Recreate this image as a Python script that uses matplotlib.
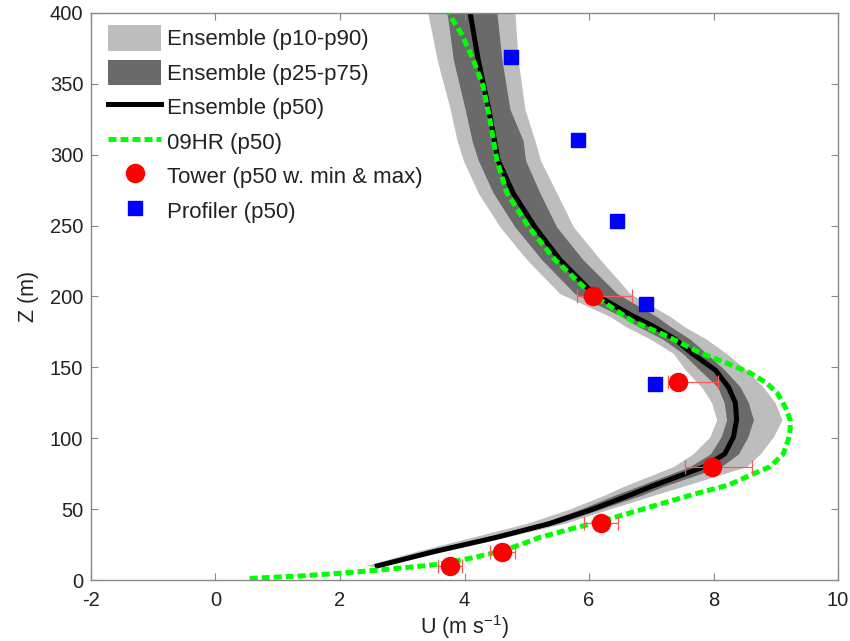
import matplotlib
matplotlib.use("Agg")
import matplotlib.pyplot as plt
import numpy as np

plt.rcParams['font.family'] = ['Liberation Sans', 'DejaVu Sans']
plt.rcParams['axes.unicode_minus'] = False

# Ensemble percentiles of wind speed against height
z_ens = [10, 20, 30, 40, 50, 60, 66, 80, 89, 101, 113, 125, 136, 148, 160,
         170, 179, 186, 202, 226, 249, 273, 296, 310, 332, 367, 400]
ens_p10 = [2.40, 3.20, 4.10, 5.00, 5.68, 6.25, 6.55, 7.35, 7.67, 7.94, 8.05, 7.97, 7.81, 7.55, 7.35,
           6.98, 6.58, 6.33, 5.53, 5.00, 4.57, 4.22, 3.98, 3.88, 3.77, 3.56, 3.41]
ens_p25 = [2.50, 3.40, 4.30, 5.22, 5.86, 6.42, 6.78, 7.62, 7.95, 8.12, 8.21, 8.17, 8.07, 7.78, 7.50,
           7.18, 6.78, 6.52, 5.77, 5.24, 4.81, 4.46, 4.22, 4.12, 4.01, 3.82, 3.72]
ens_p50 = [2.60, 3.50, 4.50, 5.38, 6.06, 6.66, 7.00, 7.85, 8.18, 8.32, 8.37, 8.35, 8.24, 8.03, 7.65,
           7.38, 7.03, 6.71, 6.07, 5.53, 5.13, 4.78, 4.54, 4.48, 4.39, 4.22, 4.09]
ens_p75 = [2.65, 3.58, 4.57, 5.50, 6.18, 6.85, 7.19, 8.12, 8.40, 8.55, 8.64, 8.56, 8.43, 8.18, 7.88,
           7.62, 7.30, 7.08, 6.45, 5.90, 5.48, 5.21, 4.98, 4.94, 4.73, 4.60, 4.52]
ens_p90 = [2.70, 3.65, 4.64, 5.60, 6.32, 7.05, 7.50, 8.53, 8.75, 8.96, 9.10, 8.99, 8.80, 8.53, 8.20,
           7.88, 7.52, 7.30, 6.66, 6.18, 5.75, 5.48, 5.22, 5.13, 4.97, 4.86, 4.81]

# 09HR median profile
z_hr = [1.2, 3, 5, 7, 9, 11, 15, 20, 25, 30, 35, 41, 47, 54, 61, 67, 75, 80, 89, 99,
        106, 113, 122, 132, 139, 146, 153, 160, 172, 183, 202, 226, 249, 273, 296,
        324, 348, 367, 385, 400]
u_hr = [0.55, 1.40, 2.05, 2.60, 3.10, 3.55, 4.05, 4.55, 4.90, 5.20, 5.62, 6.15, 6.63, 7.17,
        7.72, 8.24, 8.64, 8.91, 9.12, 9.20, 9.23, 9.23, 9.15, 9.02, 8.85, 8.59, 8.21, 7.80,
        7.25, 6.68, 6.03, 5.45, 5.03, 4.68, 4.52, 4.41, 4.30, 4.14, 3.95, 3.74]

# Tower observations: median with min and max
z_tower = [10, 20, 40, 80, 140, 200]
u_tower = [3.77, 4.60, 6.19, 7.98, 7.43, 6.06]
u_tower_min = [3.57, 4.41, 5.92, 7.54, 7.27, 5.81]
u_tower_max = [3.96, 4.81, 6.47, 8.62, 8.07, 6.69]

# Profiler medians
z_prof = [138, 195, 253, 310, 369]
u_prof = [7.06, 6.92, 6.45, 5.82, 4.75]

fig = plt.figure(figsize=(8.5, 6.41), dpi=100)
ax = fig.add_axes([0.107, 0.095, 0.879, 0.885])

ax.fill_betweenx(z_ens, ens_p10, ens_p90, color='#bdbdbd', lw=0, label='Ensemble (p10-p90)')
ax.fill_betweenx(z_ens, ens_p25, ens_p75, color='#6a6a6a', lw=0, label='Ensemble (p25-p75)')
ax.plot(ens_p50, z_ens, color='black', lw=3.6, label='Ensemble (p50)')
ax.plot(u_hr, z_hr, color='#00ff00', lw=3.6, ls=(0, (1.6, 0.8)), label='09HR (p50)')

u_tower = np.array(u_tower)
xerr = [u_tower - np.array(u_tower_min), np.array(u_tower_max) - u_tower]
ax.errorbar(u_tower, z_tower, xerr=xerr, fmt='none', ecolor='#ff5a5a',
            elinewidth=0.9, capsize=5, capthick=0.9)
ax.plot(u_tower, z_tower, 'o', color='red', ms=13, mec='red',
        label='Tower (p50 w. min & max)')
ax.plot(u_prof, z_prof, 's', color='blue', ms=10, mec='blue', label='Profiler (p50)')

ax.set_xlim(-2, 10)
ax.set_ylim(0, 400)
ax.set_xticks(np.arange(-2, 11, 2))
ax.set_yticks(np.arange(0, 401, 50))

for s in ax.spines.values():
    s.set_color('#888888')
    s.set_linewidth(1.0)
ax.tick_params(direction='in', length=5, width=0.8, color='#888888',
               top=True, right=True, labelsize=14.5, labelcolor='#222222')
ax.tick_params(axis='x', pad=8)
ax.tick_params(axis='y', pad=5.5)

ax.set_xlabel(r'U (m s$^{\mathregular{-1}}$)', fontsize=15.5, color='#222222', labelpad=2)
ax.set_ylabel('Z (m)', fontsize=15.5, color='#222222', labelpad=8)

ax.legend(loc='upper left', bbox_to_anchor=(0.0228, 0.978), frameon=False,
          fontsize=16, handlelength=2.4, handleheight=1.38, handletextpad=0.27,
          labelspacing=0.41, borderpad=0, borderaxespad=0, numpoints=1,
          labelcolor='#222222')

fig.savefig('out.png', dpi=100)
